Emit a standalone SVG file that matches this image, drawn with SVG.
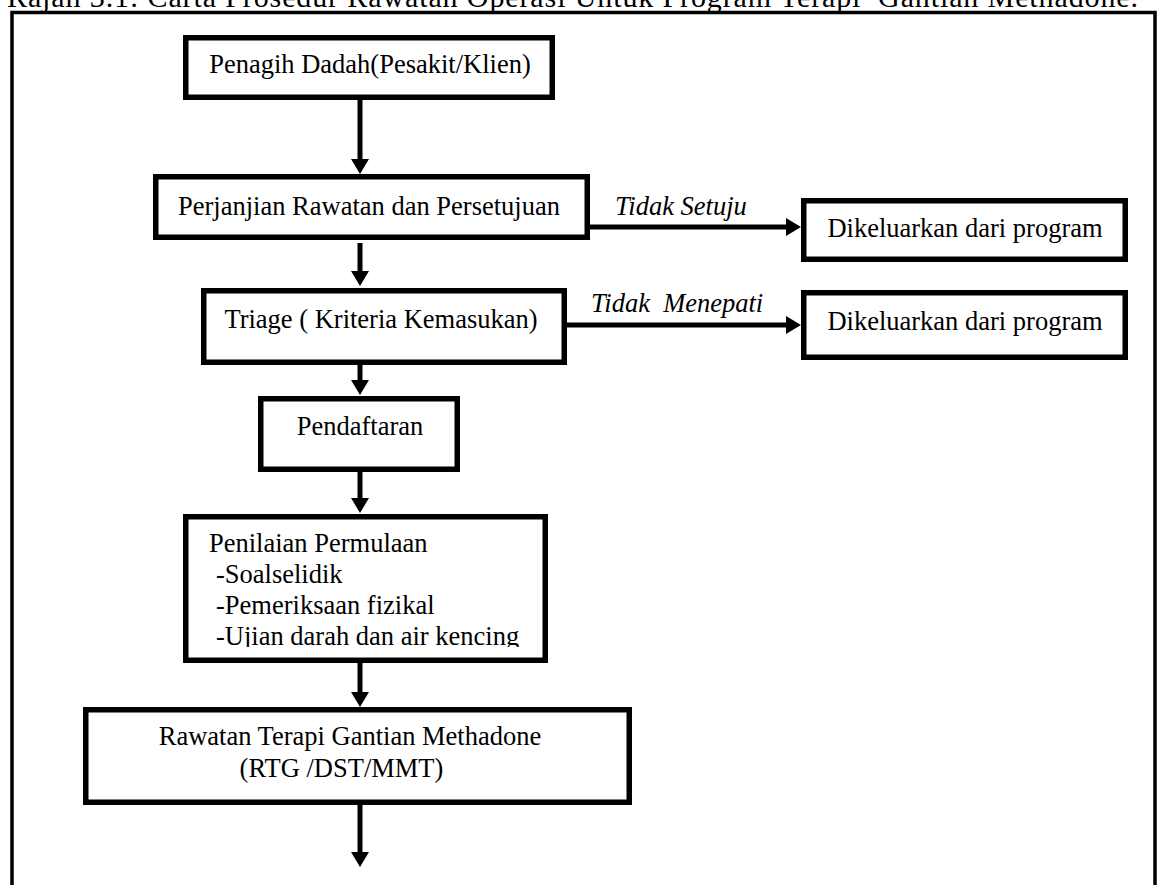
<svg xmlns="http://www.w3.org/2000/svg" width="1159" height="885" viewBox="0 0 1159 885">
<style>
.box{fill:#fff;stroke:#000;stroke-width:5.5}
.t{font-family:"Liberation Serif","Times New Roman",serif;font-size:26.5px;fill:#000}
.c{text-anchor:middle}
.i{font-style:italic}
.ln{stroke:#000;stroke-width:5;fill:none;marker-end:url(#ah)}
.frame{stroke:#000;stroke-width:3.5;fill:none}
</style>
<defs>
<marker id="ah" viewBox="0 0 15 18" refX="0" refY="9" markerWidth="15" markerHeight="18" markerUnits="userSpaceOnUse" orient="auto">
<path d="M0,0 L15,9 L0,18 z" fill="#000"/>
</marker>
<clipPath id="clipP"><rect x="180" y="510" width="380" height="137"/></clipPath>
</defs>
<rect width="1159" height="885" fill="#fff"/>
<text class="t" x="7" y="7" style="font-size:30px" textLength="1131" lengthAdjust="spacing" xml:space="preserve">Rajah 3.1: Carta Prosedur Rawatan Operasi Untuk Program Terapi  Gantian Methadone.</text>
<path class="frame" d="M12,885 V12.5 H1155 V885"/>
<g id="connectors">
<line class="ln" x1="360" y1="100" x2="360" y2="159"/>
<line class="ln" x1="360" y1="243" x2="360" y2="271"/>
<line class="ln" x1="360" y1="362" x2="360" y2="380"/>
<line class="ln" x1="360" y1="472" x2="360" y2="498"/>
<line class="ln" x1="360" y1="663" x2="360" y2="692"/>
<line class="ln" x1="360" y1="805" x2="360" y2="852"/>
<line class="ln" x1="590" y1="227" x2="786" y2="227"/>
<line class="ln" x1="567" y1="325" x2="786" y2="325"/>
<text class="t i" x="615" y="215">Tidak Setuju</text>
<text class="t i" x="591" y="312" xml:space="preserve">Tidak  Menepati</text>
</g>
<g id="n1">
<rect class="box" x="185.75" y="37.75" width="366.5" height="59.5"/>
<text class="t c" x="370" y="73">Penagih Dadah(Pesakit/Klien)</text>
</g>
<g id="n2">
<rect class="box" x="155.75" y="176.75" width="431.5" height="60.5"/>
<text class="t c" x="369" y="215">Perjanjian Rawatan dan Persetujuan</text>
</g>
<g id="n3">
<rect class="box" x="803.75" y="200.75" width="321.5" height="58.5"/>
<text class="t c" x="965" y="237">Dikeluarkan dari program</text>
</g>
<g id="n4">
<rect class="box" x="203.75" y="290.75" width="360.5" height="71.5"/>
<text class="t c" x="381" y="328">Triage ( Kriteria Kemasukan)</text>
</g>
<g id="n5">
<rect class="box" x="803.75" y="292.75" width="321.5" height="64.5"/>
<text class="t c" x="965" y="330">Dikeluarkan dari program</text>
</g>
<g id="n6">
<rect class="box" x="260.75" y="398.75" width="196.5" height="70.5"/>
<text class="t c" x="360" y="435">Pendaftaran</text>
</g>
<g id="n7">
<rect class="box" x="185.75" y="516.75" width="359.5" height="143.5"/>
<g clip-path="url(#clipP)">
<text class="t" x="209" y="552">Penilaian Permulaan</text>
<text class="t" x="216" y="583">-Soalselidik</text>
<text class="t" x="216" y="614">-Pemeriksaan fizikal</text>
<text class="t" x="216" y="645">-Ujian darah dan air kencing</text>
</g>
</g>
<g id="n8">
<rect class="box" x="85.75" y="709.75" width="543.5" height="92.5"/>
<text class="t c" x="350" y="745">Rawatan Terapi Gantian Methadone</text>
<text class="t c" x="341.5" y="777">(RTG /DST/MMT)</text>
</g>
</svg>
